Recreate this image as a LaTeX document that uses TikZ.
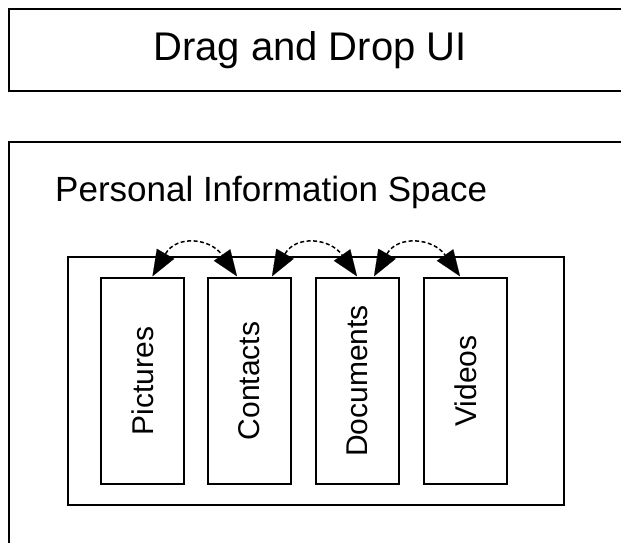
\documentclass[tikz,border=0pt]{standalone}
\usepackage{fontspec}
\setmainfont{Liberation Sans}
\usetikzlibrary{arrows.meta,calc}
\begin{document}
\begin{tikzpicture}[x=1pt,y=-1pt,
  frame/.style={draw=black,line width=1.9pt},
  holder/.style={draw=black,line width=1.4pt},
  store/.style={draw=black,line width=1.4pt,minimum width=83pt,minimum height=206pt,inner sep=0pt,font=\fontsize{30}{30}\selectfont},
  link/.style={line width=1.5pt,dash pattern=on 4pt off 2.5pt},
  head/.style={line width=0.1pt,-{Triangle[length=26pt,width=20pt]}},
  title/.style={inner sep=0pt}]
\useasboundingbox (0,0) rectangle (621,543);
\begin{scope}
\clip (0,0) rectangle (621,543);
% upper band and the large panel run past the page edge
\draw[frame] (640,9) -- (9,9) -- (9,91) -- (640,91);
\draw[frame] (640,142) -- (9,142) -- (9,560);
\end{scope}

\node[title,font=\fontsize{40}{40}\selectfont] (ui) at (310,50) {Drag and Drop UI};
\node[title,font=\fontsize{35}{35}\selectfont,anchor=west] (pis) at (55,192) {Personal Information Space};

\draw[holder] (68,257) rectangle (564,505);

\node[store] (pic) at (142.5,381) {\rotatebox{90}{Pictures}};
\node[store] (con) at (249.5,381) {\rotatebox{90}{Contacts}};
\node[store] (doc) at (357.5,381) {\rotatebox{90}{Documents}};
\node[store] (vid) at (465.5,381) {\rotatebox{90}{Videos}};

% tip points of the three exchange arcs on the tops of the stores
\coordinate (p1) at ([xshift=10pt,yshift=1pt]pic.north);
\coordinate (c1) at ([xshift=-12.5pt,yshift=1pt]con.north);
\coordinate (c2) at ([xshift=22.5pt,yshift=1pt]con.north);
\coordinate (d1) at ([xshift=-0.5pt,yshift=1pt]doc.north);
\coordinate (d2) at ([xshift=16.5pt,yshift=1pt]doc.north);
\coordinate (v1) at ([xshift=-5.5pt,yshift=1pt]vid.north);

% each arc: a dashed curve between the backs of two arrowheads
\foreach \a/\b in {p1/c1,c2/d1,d2/v1}{
  \coordinate (\a-back) at ($(\a)+(13,-22.5)$);
  \coordinate (\b-back) at ($(\b)+(-14.9,-21.3)$);
  \draw[link] (\a-back) .. controls ($(\a-back)+(11,-19)$) and ($(\b-back)+(-12,-17)$) .. (\b-back);
  \draw[head] (\a-back) -- (\a);
  \draw[head] (\b-back) -- (\b);
}
\end{tikzpicture}
\end{document}
